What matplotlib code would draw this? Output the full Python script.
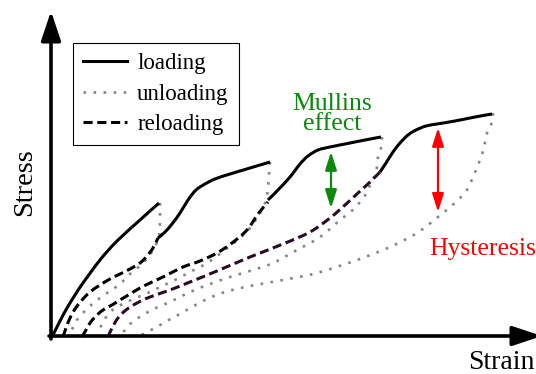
import matplotlib
matplotlib.use("Agg")
import matplotlib.pyplot as plt
import numpy as np
from matplotlib.lines import Line2D
from matplotlib.path import Path
from matplotlib.patches import PathPatch

plt.rcParams['font.family'] = ['Liberation Serif', 'DejaVu Serif']

# schematic stress-strain cycles (arbitrary units)
load1_x = [2, 10, 17, 25, 33, 50, 67, 90, 100, 109]
load1_y = [0, 16, 29, 42, 54, 77, 96, 117, 126, 134]
load2_x = [108, 115, 122, 130, 138, 146, 155, 165, 180, 200, 220]
load2_y = [99, 105, 113, 124, 137, 147, 153, 158, 163, 169, 175]
load3_x = [218, 228, 240, 250, 258, 268, 280, 300, 315, 331]
load3_y = [137, 147, 160, 173, 181, 187, 190, 194, 197, 200]
load4_x = [330, 336, 343, 350, 358, 366, 376, 387, 405, 425, 442]
load4_y = [165, 174, 185, 194, 202, 207, 211, 213, 216, 220, 223]

unload1_x = [110, 110, 109, 103, 93, 80, 70, 60, 50, 40, 32, 25, 19]
unload1_y = [134, 117, 101, 87, 74, 63, 53, 46, 39, 31, 23, 14, 0]
unload2_x = [220, 219, 218, 216, 212, 207, 200, 190, 175, 157, 140, 125, 110, 100, 88, 77, 65, 57, 51, 47]
unload2_y = [175, 162, 149, 137, 127, 119, 109, 99, 87, 74, 65, 57, 50, 45, 40, 35, 29, 21, 11, 0]
unload3_x = [332, 331, 328, 327, 325, 320, 316, 310, 304, 290, 270, 247, 223, 203, 180, 160, 140, 120, 110, 98, 88, 78, 70]
unload3_y = [200, 189, 180, 170, 162, 152, 143, 135, 128, 117, 100, 87, 74, 67, 60, 53, 45, 35, 31, 25, 19, 11, 0]
unload4_x = [443, 442, 437, 434, 430, 423, 417, 408, 400, 388, 367, 340, 307, 267, 233, 200, 175, 157, 142, 128, 115, 105, 95, 88]
unload4_y = [224, 215, 204, 190, 177, 160, 147, 137, 130, 120, 104, 90, 77, 64, 57, 51, 45, 38, 30, 22, 15, 9, 4, 0]

reload1_x = [13, 16, 20, 25, 32, 40, 50, 60, 70, 80, 90, 97, 103, 108]
reload1_y = [0, 9, 19, 28, 37, 45, 52, 58, 63, 68, 74, 81, 89, 99]
reload2_x = [32, 36, 40, 46, 53, 62, 70, 80, 90, 100, 115, 133, 150, 167, 182, 197, 208, 218]
reload2_y = [0, 7, 14, 21, 27, 32, 37, 43, 49, 54, 61, 70, 76, 84, 94, 107, 123, 135]
reload3_x = [58, 62, 68, 76, 87, 100, 120, 140, 167, 200, 233, 260, 280, 295, 308, 320, 330]
reload3_y = [0, 9, 19, 27, 34, 40, 47, 55, 66, 80, 93, 105, 119, 132, 144, 155, 165]

mullins_x = 281
hyst_x = 388

lw = 2.2
dot_lw = 1.9
dot_color = '#858585'
dash_pat = (3.0, 1.5)
dot_pat = (1.0, 2.8)


def smooth_path(xs, ys):
    # Catmull-Rom through the points, handed to matplotlib as cubic Beziers
    p = np.column_stack([xs, ys]).astype(float)
    p = np.vstack([p[0], p, p[-1]])
    verts = [p[1]]
    codes = [Path.MOVETO]
    for i in range(1, len(p) - 2):
        c1 = p[i] + (p[i + 1] - p[i - 1]) / 6.0
        c2 = p[i + 1] - (p[i + 2] - p[i]) / 6.0
        verts += [c1, c2, p[i + 1]]
        codes += [Path.CURVE4] * 3
    return Path(verts, codes)


def draw_curve(ax, xs, ys, **kw):
    ax.add_patch(PathPatch(smooth_path(xs, ys), fill=False, **kw))


fig = plt.figure(figsize=(5.36, 3.74), dpi=100)
ax = fig.add_axes([0, 0, 1, 1])
ax.set_xlim(-50, 486)
ax.set_ylim(-37, 337)
ax.axis('off')

for xs, ys in [(unload1_x, unload1_y), (unload2_x, unload2_y), (unload3_x, unload3_y), (unload4_x, unload4_y)]:
    draw_curve(ax, xs, ys, edgecolor=dot_color, lw=dot_lw, linestyle=(0, dot_pat), capstyle='butt')

for xs, ys in [(load1_x, load1_y), (load2_x, load2_y), (load3_x, load3_y), (load4_x, load4_y)]:
    draw_curve(ax, xs, ys, edgecolor='black', lw=lw, capstyle='butt')

draw_curve(ax, reload1_x, reload1_y, edgecolor='black', lw=lw, linestyle=(0, dash_pat), capstyle='butt')
draw_curve(ax, reload2_x, reload2_y, edgecolor='black', lw=lw, linestyle=(0, dash_pat), capstyle='butt')
draw_curve(ax, reload3_x, reload3_y, edgecolor='#2b0a24', lw=lw, linestyle=(0, dash_pat), capstyle='butt')

# coordinate axes with arrow heads
axis_arrow = dict(arrowstyle='-|>,head_length=0.9,head_width=0.3',
                  mutation_scale=20, lw=2.6, color='black', shrinkA=0, shrinkB=0)
ax.annotate('', xy=(1, 326), xytext=(1, -2), annotation_clip=False, arrowprops=axis_arrow)
ax.annotate('', xy=(492, 1), xytext=(-1, 1), annotation_clip=False, arrowprops=axis_arrow)

ax.text(-25, 155, 'Stress', rotation=90, fontsize=20.5, ha='center', va='center')
ax.text(451, -32, 'Strain', fontsize=20, ha='center', va='baseline')

# Mullins effect: gap between primary loading and reloading
g_top = np.interp(mullins_x, load3_x, load3_y) - 5
g_bot = np.interp(mullins_x, reload3_x, reload3_y) + 9
green = '#0a8a0a'
ax.annotate('', xy=(mullins_x, g_top), xytext=(mullins_x, g_bot),
            arrowprops=dict(arrowstyle='<|-|>,head_length=1.1,head_width=0.35',
                            mutation_scale=10, lw=1.6, color=green,
                            shrinkA=0, shrinkB=0))
ax.text(282, 227, 'Mullins', color=green, fontsize=18.5, ha='center', va='baseline')
ax.text(282, 207, 'effect', color=green, fontsize=18.5, ha='center', va='baseline')

# hysteresis: gap between loading and unloading
r_top = np.interp(hyst_x, load4_x, load4_y) - 4
r_bot = np.interp(hyst_x, unload4_x[::-1], unload4_y[::-1]) + 5
ax.annotate('', xy=(hyst_x, r_top), xytext=(hyst_x, r_bot),
            arrowprops=dict(arrowstyle='<|-|>,head_length=1.1,head_width=0.35',
                            mutation_scale=10, lw=1.6, color='red',
                            shrinkA=0, shrinkB=0))
ax.text(379, 82, 'Hysteresis', color='red', fontsize=18.5, ha='left', va='baseline')

handles = [
    Line2D([], [], color='black', lw=lw),
    Line2D([], [], color=dot_color, lw=dot_lw, linestyle=(0, dot_pat)),
    Line2D([], [], color='black', lw=lw, linestyle=(0, dash_pat)),
]
leg = ax.legend(handles, ['loading', 'unloading', 'reloading'],
                loc='upper left', bbox_to_anchor=(23, 294),
                bbox_transform=ax.transData, borderaxespad=0,
                fancybox=False, edgecolor='black', framealpha=1,
                fontsize=16.5, handlelength=1.9, handletextpad=0.45,
                labelspacing=0.4, borderpad=0.45)
leg.get_frame().set_linewidth(0.8)

fig.savefig('out.png', dpi=100)
